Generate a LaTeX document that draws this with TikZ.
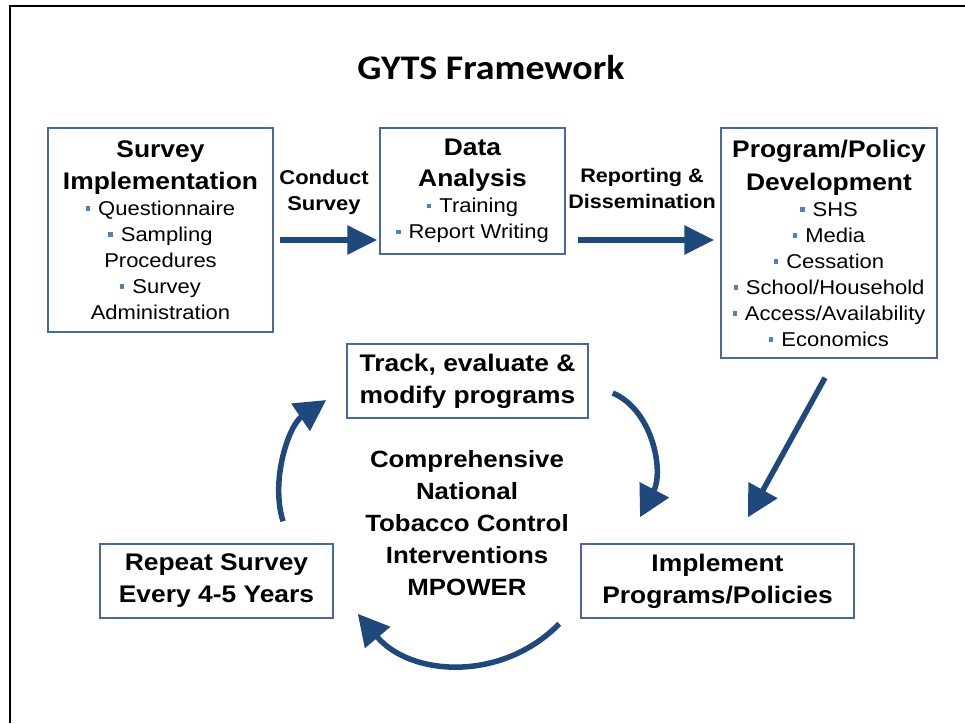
\documentclass[tikz,border=0pt]{standalone}
\usepackage{fontspec}
\usetikzlibrary{arrows.meta}
\newfontfamily\arialf[FakeStretch=1.1]{Liberation Sans}
\newfontfamily\calibf[FakeStretch=1.1]{Carlito}
\definecolor{arrowc}{RGB}{31,73,125}
\definecolor{boxc}{RGB}{70,105,160}
\definecolor{bulc}{RGB}{79,129,189}
\newcommand\bul{\textcolor{bulc}{\rule[0.22em]{0.22em}{0.22em}}\hspace{0.4em}}
\newcommand\hd[1]{{\bfseries\fontsize{24}{26}\selectfont #1}}
\begin{document}
\begin{tikzpicture}[x=1pt,y=-1pt,
  box/.style={draw=boxc, line width=1.5pt, inner sep=0pt, align=center,
    font=\arialf\fontsize{20}{26}\selectfont},
  lbl/.style={align=center, inner sep=0pt,
    font=\arialf\bfseries\fontsize{20}{26}\selectfont},
  bbox/.style={draw=boxc, line width=1.5pt, inner sep=0pt, align=center,
    font=\arialf\bfseries\fontsize{24}{32}\selectfont},
  bigarrow/.style={draw=arrowc, line width=6pt, -{Triangle[length=30pt,width=28pt]}},
  curvearrow/.style={draw=arrowc, line width=5.5pt, -{Triangle[length=31pt,width=32pt]}},
  frame/.style={line width=2.2pt, draw=black}]
\useasboundingbox (0,0) rectangle (965,723);
\draw[frame] (10,723) -- (10,5.7) -- (965,5.7);

\node (title) at (491,79) [anchor=base, inner sep=0pt,
  font=\calibf\bfseries\fontsize{34.5}{40}\selectfont] {GYTS Framework};

\node[box, minimum width=225pt, minimum height=204pt] (sv) at (160.5,230)
  {\hd{Survey}\\[6pt]\hd{Implementation}\\\bul Questionnaire\\\bul Sampling\\Procedures\\\bul Survey\\Administration};
\node[box, minimum width=185pt, minimum height=126pt] (da) at (472.5,191)
  {\hd{Data}\\[5pt]\hd{Analysis}\\\bul Training\\\bul Report Writing};
\node[box, minimum width=216pt, minimum height=230pt] (pp) at (829,243)
  {\hd{Program/Policy}\\[7pt]\hd{Development}\\\bul SHS\\\bul Media\\\bul Cessation\\\bul School/Household\\\bul Access/Availability\\\bul Economics};

\node[lbl] (cs) at (324,192.5) {Conduct\\Survey};
\node[lbl, font=\arialf\bfseries\fontsize{19.6}{26}\selectfont] (rd) at (642,188) {Reporting \&\\Dissemination};

\node[bbox, minimum width=241pt, minimum height=74pt] (tr) at (467.5,381) {Track, evaluate \&\\modify programs};
\node[bbox, minimum width=233pt, minimum height=74pt] (rp) at (216.5,581) {Repeat Survey\\Every 4-5 Years};
\node[bbox, minimum width=273pt, minimum height=74pt] (im) at (717.5,581) {Implement\\Programs/Policies};
\node[lbl, font=\arialf\bfseries\fontsize{23.5}{32}\selectfont] (ct) at (467,523.5)
  {Comprehensive\\National\\Tobacco Control\\Interventions\\MPOWER};

\draw[bigarrow] ([shift={(6,10)}]sv.east) -- ([shift={(-2,49)}]da.west);
\draw[bigarrow] ([shift={(12,49)}]da.east) -- ([shift={(-6,-3)}]pp.west);
\draw[curvearrow] ([shift={(-4,19)}]pp.south) -- ([shift={(30.5,-26)}]im.north);
\draw[curvearrow] ([shift={(24,12)}]tr.east) .. controls +(40,17) and +(24,-46) .. ([shift={(-77.5,-26)}]im.north);
\draw[curvearrow] ([shift={(-21,5)}]im.south west) .. controls +(-57.4,58.6) and +(52.7,62.8) .. ([shift={(24,-5)}]rp.south east);
\draw[curvearrow] ([shift={(66.5,-22)}]rp.north) .. controls +(-13,-42) and +(-37,25) .. ([shift={(-20,19)}]tr.west);
\end{tikzpicture}
\end{document}
